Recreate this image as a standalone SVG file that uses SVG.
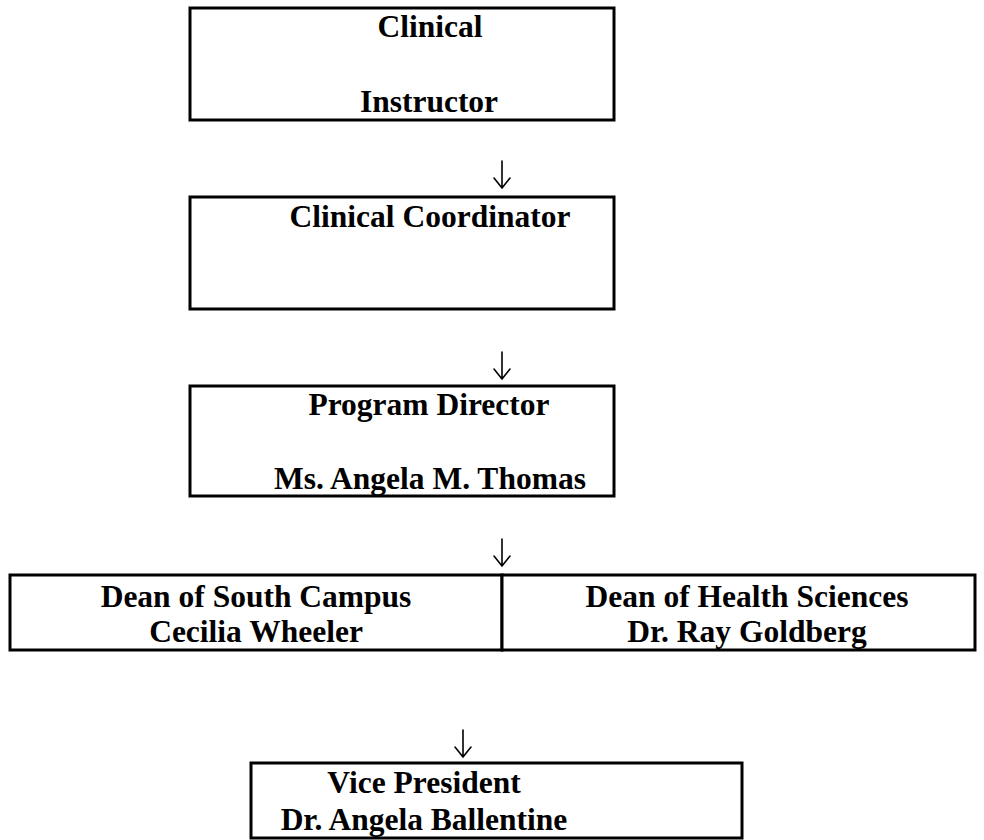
<svg xmlns="http://www.w3.org/2000/svg" width="984" height="840" viewBox="0 0 984 840">
<style>
.box{fill:#fff;stroke:#000;stroke-width:3}
.t{font-family:"Liberation Serif","Times New Roman",serif;font-weight:bold;font-size:31.5px;fill:#000;text-anchor:middle}
.arr{fill:none;stroke:#000;stroke-width:1.6;stroke-linecap:round;stroke-linejoin:miter}
</style>
<defs>
<path id="arrow" d="M0,0 V27 M-8,17 L0,27 L8,17"/>
</defs>
<rect width="984" height="840" fill="#fff"/>
<g id="n1">
<rect class="box" x="190" y="8" width="424" height="112"/>
<text class="t" x="430" y="37">Clinical</text>
<text class="t" x="429" y="112">Instructor</text>
</g>
<g id="n2">
<rect class="box" x="190" y="197" width="424" height="112"/>
<text class="t" x="430" y="227">Clinical Coordinator</text>
</g>
<g id="n3">
<rect class="box" x="190" y="386" width="424" height="110"/>
<text class="t" x="429" y="415">Program Director</text>
<text class="t" x="430" y="489">Ms. Angela M. Thomas</text>
</g>
<g id="n4">
<rect class="box" x="10" y="575" width="492" height="75"/>
<text class="t" x="256" y="607">Dean of South Campus</text>
<text class="t" x="256" y="642">Cecilia Wheeler</text>
</g>
<g id="n5">
<rect class="box" x="502" y="575" width="473" height="75"/>
<text class="t" x="747" y="607">Dean of Health Sciences</text>
<text class="t" x="747" y="642">Dr. Ray Goldberg</text>
</g>
<g id="n6">
<rect class="box" x="251" y="763" width="491" height="75"/>
<text class="t" x="424" y="793">Vice President</text>
<text class="t" x="424" y="830">Dr. Angela Ballentine</text>
</g>
<g id="connectors" class="arr">
<use href="#arrow" x="502" y="161"/>
<use href="#arrow" x="502" y="352"/>
<use href="#arrow" x="502" y="539"/>
<use href="#arrow" x="463" y="730"/>
</g>
</svg>
